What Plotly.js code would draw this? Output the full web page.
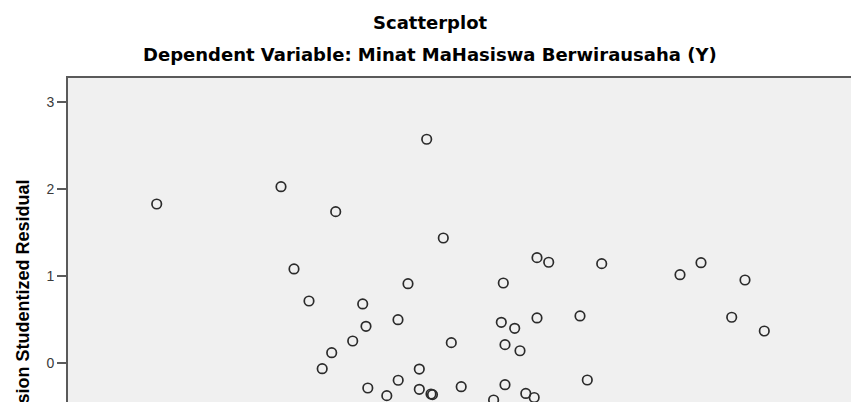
<!DOCTYPE html>
<html>
<head>
<meta charset="utf-8">
<script src="https://cdn.plot.ly/plotly-3.0.1.min.js"></script>
<style>html,body{margin:0;padding:0;background:#fff;}#chart{width:851px;height:402px;}</style>
</head>
<body>
<div id="chart"></div>
<script>
// Regression Standardized Predicted Value (arbitrary units)
const predicted = [
  0.877, 2.12, 2.25, 3.577, 2.667, 3.743, 4.68, 4.797, 4.343, 3.39,
  2.40, 2.937, 3.29, 2.97, 4.323, 4.457, 4.68, 5.11, 2.837, 2.627,
  3.823, 4.36, 4.51, 2.532, 3.503, 3.292, 2.988, 3.503, 3.62, 3.635,
  3.922, 4.36, 4.568, 4.652, 3.178, 4.246, 5.327, 6.11, 6.32, 6.76,
  6.627, 6.953, 5.183
];
// Regression Studentized Residual
const residual = [
  1.831, 2.030, 1.084, 2.575, 1.743, 1.440, 1.214, 1.161, 0.923, 0.915,
  0.716, 0.682, 0.501, 0.425, 0.471, 0.402, 0.521, 0.544, 0.256, 0.122,
  0.237, 0.214, 0.144, -0.062, -0.066, -0.195, -0.284, -0.299, -0.353, -0.360,
  -0.269, -0.246, -0.347, -0.393, -0.372, -0.422, 1.145, 1.018, 1.156, 0.957,
  0.529, 0.371, -0.192
];
const yTicks = [0, 1, 2, 3];
const chartTitle = 'Scatterplot';
const chartSubtitle = 'Dependent Variable: Minat MaHasiswa Berwirausaha (Y)';
const yTitle = 'Regression Studentized Residual';

const trace = {
  type: 'scatter',
  mode: 'markers',
  x: predicted,
  y: residual,
  cliponaxis: true,
  marker: {symbol: 'circle-open', size: 9.5, color: '#2b2b2b', line: {width: 1.7, color: '#2b2b2b'}},
  hoverinfo: 'skip'
};

const layout = {
  width: 851, height: 402,
  margin: {l: 68, r: 0, t: 78, b: 0, pad: 0},
  paper_bgcolor: '#ffffff',
  plot_bgcolor: '#f0f0f0',
  showlegend: false,
  xaxis: {
    range: [-0.01, 7.82], side: 'top', showline: true, linecolor: '#5a5a5a', linewidth: 2,
    showgrid: false, zeroline: false, showticklabels: false, ticks: ''
  },
  yaxis: {
    range: [-0.445, 3.279], showline: true, linecolor: '#5a5a5a', linewidth: 2,
    showgrid: false, zeroline: false, tickvals: yTicks, ticktext: yTicks.map(String),
    ticks: 'outside', ticklen: 9, tickwidth: 2, tickcolor: '#5a5a5a',
    tickfont: {family: 'Liberation Sans, Arial, sans-serif', size: 14, color: '#3a3a3a'}
  },
  annotations: [
    {text: chartTitle, xref: 'paper', yref: 'paper', x: (430 - 68) / 783, y: 1 + (78 - 22) / 324,
     xanchor: 'center', yanchor: 'middle', showarrow: false,
     font: {family: 'DejaVu Sans, sans-serif', size: 18, color: '#000000', weight: 'bold'}},
    {text: chartSubtitle, xref: 'paper', yref: 'paper', x: (430 - 68) / 783, y: 1 + (78 - 55) / 324,
     xanchor: 'center', yanchor: 'middle', showarrow: false,
     font: {family: 'DejaVu Sans, sans-serif', size: 18, color: '#000000', weight: 'bold'}},
    {text: yTitle, xref: 'paper', yref: 'paper', x: (22 - 68) / 783, y: (402 - 178) / 324,
     xanchor: 'center', yanchor: 'top', textangle: -90, showarrow: false,
     font: {family: 'Liberation Sans, Arial, sans-serif', size: 18, color: '#000000', weight: 'bold'}}
  ]
};

Plotly.newPlot('chart', [trace], layout, {staticPlot: true, displayModeBar: false});
</script>
</body>
</html>
